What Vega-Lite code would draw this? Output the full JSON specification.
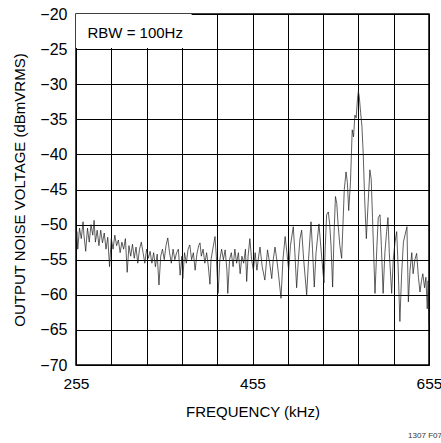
{
  "$schema": "https://vega.github.io/schema/vega-lite/v6.json",
  "autosize": "none",
  "width": 353,
  "height": 351,
  "padding": {"left": 76, "top": 14, "right": 12, "bottom": 78},
  "background": "white",
  "config": {
    "font": "Liberation Sans",
    "view": {"stroke": "#000", "strokeWidth": 1.5},
    "axis": {"gridColor": "#000", "gridOpacity": 1, "gridWidth": 1, "domain": false, "ticks": false, "labelColor": "#000", "titleColor": "#000", "labelFont": "Liberation Sans", "titleFont": "Liberation Sans", "titleFontWeight": "normal"}
  },
  "title": {"text": "1307 F07", "orient": "bottom", "anchor": "end", "fontSize": 8, "fontWeight": "normal", "color": "#333", "offset": 12, "font": "Liberation Sans"},
  "datasets": {
    "trace": [
      {"f":255,"v":-52.5},{"f":256,"v":-51},{"f":257,"v":-53.5},{"f":259,"v":-50.5},{"f":261,"v":-52},{"f":263,"v":-49.6},{"f":264,"v":-51.5},{"f":266,"v":-53.8},{"f":268,"v":-50.5},{"f":270,"v":-52.5},{"f":272,"v":-50},{"f":274,"v":-51.5},{"f":275.5,"v":-49.4},{"f":277,"v":-52.5},{"f":279,"v":-50.8},{"f":281,"v":-53},{"f":283,"v":-50.8},{"f":285,"v":-52.6},{"f":287,"v":-51.2},{"f":289,"v":-53.5},{"f":291,"v":-51.8},{"f":293,"v":-56},{"f":295,"v":-52},{"f":297,"v":-53.5},{"f":299,"v":-51.5},{"f":301,"v":-53},{"f":303,"v":-52.2},{"f":305,"v":-54},{"f":307,"v":-52.5},{"f":309,"v":-53.5},{"f":311,"v":-52},{"f":313,"v":-56.8},{"f":315,"v":-53},{"f":317,"v":-54.5},{"f":319,"v":-52.8},{"f":321,"v":-54.8},{"f":323,"v":-53.2},{"f":325,"v":-55.5},{"f":327,"v":-53.5},{"f":329,"v":-52.5},{"f":331,"v":-54},{"f":333,"v":-55.5},{"f":335,"v":-53.5},{"f":337,"v":-54.8},{"f":339,"v":-53.8},{"f":341,"v":-55.5},{"f":343,"v":-54},{"f":345,"v":-56},{"f":347,"v":-54.2},{"f":349,"v":-58.6},{"f":351,"v":-54.5},{"f":353,"v":-53.5},{"f":355,"v":-55},{"f":357,"v":-53},{"f":359,"v":-51.9},{"f":361,"v":-54},{"f":363,"v":-55.5},{"f":365,"v":-53.5},{"f":367,"v":-55},{"f":369,"v":-54},{"f":371,"v":-53.5},{"f":373,"v":-57.2},{"f":375,"v":-54.5},{"f":376,"v":-57.7},{"f":378,"v":-54},{"f":380,"v":-55.5},{"f":382,"v":-53.5},{"f":384,"v":-52.9},{"f":386,"v":-55},{"f":388,"v":-54},{"f":390,"v":-56.5},{"f":392,"v":-54.2},{"f":394,"v":-53},{"f":395.5,"v":-52.6},{"f":397,"v":-54.5},{"f":399,"v":-53.5},{"f":401,"v":-55.5},{"f":403,"v":-54},{"f":405,"v":-56},{"f":406.8,"v":-58.5},{"f":408,"v":-55},{"f":410,"v":-53.5},{"f":412.5,"v":-51.7},{"f":414,"v":-54.5},{"f":416,"v":-59.8},{"f":418,"v":-55},{"f":420,"v":-53.5},{"f":422,"v":-55},{"f":424,"v":-53.6},{"f":426,"v":-56.5},{"f":427,"v":-59.8},{"f":429,"v":-55},{"f":431,"v":-54},{"f":433,"v":-56},{"f":435,"v":-53.5},{"f":437,"v":-55.5},{"f":439,"v":-54},{"f":441,"v":-57},{"f":443,"v":-54.5},{"f":445,"v":-55.5},{"f":447,"v":-53.5},{"f":448.4,"v":-58.1},{"f":450,"v":-54.5},{"f":452,"v":-52},{"f":454,"v":-55},{"f":456,"v":-56.5},{"f":458,"v":-54},{"f":460,"v":-56.5},{"f":462,"v":-54.5},{"f":463.5,"v":-53.2},{"f":466,"v":-56},{"f":469,"v":-57.9},{"f":472,"v":-53.6},{"f":474.5,"v":-55.5},{"f":476.8,"v":-57.7},{"f":478.5,"v":-55},{"f":480.5,"v":-53.2},{"f":482,"v":-54.5},{"f":484,"v":-56.5},{"f":487.3,"v":-60.5},{"f":489.5,"v":-55},{"f":492,"v":-51.7},{"f":494,"v":-54},{"f":496,"v":-56.5},{"f":498,"v":-53},{"f":501.2,"v":-50.3},{"f":503,"v":-54},{"f":505,"v":-59},{"f":507,"v":-55},{"f":508.8,"v":-52},{"f":510.7,"v":-50.8},{"f":513,"v":-55},{"f":516.4,"v":-60},{"f":518.5,"v":-55},{"f":521.3,"v":-49.6},{"f":523,"v":-53.5},{"f":525,"v":-58.9},{"f":527,"v":-54},{"f":530.3,"v":-49.9},{"f":532,"v":-52.5},{"f":534,"v":-55.5},{"f":536,"v":-58.3},{"f":537.5,"v":-53},{"f":539,"v":-48.6},{"f":540.9,"v":-48.2},{"f":542.5,"v":-50},{"f":544,"v":-53},{"f":545.8,"v":-58.9},{"f":547.5,"v":-51},{"f":549,"v":-46},{"f":550.5,"v":-47},{"f":552,"v":-50},{"f":554,"v":-53},{"f":556,"v":-54.8},{"f":557.5,"v":-50},{"f":559,"v":-45},{"f":561,"v":-42.5},{"f":562.5,"v":-44},{"f":564,"v":-48},{"f":566,"v":-44},{"f":568,"v":-36.5},{"f":569.5,"v":-37.5},{"f":571,"v":-34.4},{"f":572.5,"v":-34.8},{"f":574,"v":-32},{"f":575,"v":-31},{"f":576,"v":-31.8},{"f":577.5,"v":-34},{"f":579,"v":-36},{"f":580.5,"v":-40},{"f":582,"v":-46},{"f":584,"v":-52},{"f":586,"v":-47},{"f":588,"v":-42.2},{"f":589.5,"v":-43.5},{"f":591,"v":-49},{"f":593.8,"v":-59.8},{"f":596,"v":-53},{"f":597.5,"v":-49},{"f":599.5,"v":-48.6},{"f":601,"v":-53},{"f":603,"v":-59.8},{"f":605,"v":-54},{"f":607,"v":-51},{"f":608.5,"v":-49},{"f":610,"v":-54},{"f":612.7,"v":-59.8},{"f":614.5,"v":-55},{"f":616.5,"v":-52.5},{"f":618.4,"v":-51},{"f":620,"v":-56},{"f":622,"v":-63.8},{"f":624,"v":-57},{"f":626,"v":-52.5},{"f":627.8,"v":-51.5},{"f":630,"v":-50.3},{"f":631.6,"v":-61},{"f":633.5,"v":-56.5},{"f":635.5,"v":-54},{"f":637,"v":-57},{"f":639,"v":-55},{"f":641,"v":-54.1},{"f":643,"v":-57.5},{"f":644.8,"v":-59.6},{"f":646.5,"v":-58},{"f":648,"v":-57},{"f":650,"v":-59},{"f":651.5,"v":-57.5},{"f":653,"v":-62},{"f":654,"v":-58},{"f":655,"v":-64}
    ],
    "box": [{"f": 255, "f2": 386, "v": -20, "v2": -24.85}],
    "note": [{"f": 268, "v": -22.7, "label": "RBW = 100Hz"}]
  },
  "encoding": {
    "x": {"field": "f", "type": "quantitative", "scale": {"domain": [255, 655], "nice": false, "zero": false},
      "axis": {"values": [255,295,335,375,415,455,495,535,575,615,655], "labelOverlap": false, "labelExpr": "datum.value==255||datum.value==455||datum.value==655 ? datum.label : ''", "labelFontSize": 15.5, "labelPadding": 11, "title": "FREQUENCY (kHz)", "titleFontSize": 15, "titlePadding": 13, "labelFlush": false}},
    "y": {"field": "v", "type": "quantitative", "scale": {"domain": [-70, -20], "nice": false, "zero": false},
      "axis": {"values": [-70,-65,-60,-55,-50,-45,-40,-35,-30,-25,-20], "labelOverlap": false, "labelFontSize": 16, "labelPadding": 9, "title": "OUTPUT NOISE VOLTAGE (dBmVRMS)", "titleFontSize": 15, "titlePadding": 12, "labelFlush": false}}
  },
  "layer": [
    {
      "data": {"name": "trace"},
      "mark": {"type": "line", "color": "#1a1a1a", "strokeWidth": 0.7, "interpolate": "linear"}
    },
    {
      "data": {"name": "box"},
      "mark": {"type": "rect", "fill": "white", "stroke": null},
      "encoding": {
        "x2": {"field": "f2"},
        "y2": {"field": "v2"}
      }
    },
    {
      "data": {"name": "note"},
      "mark": {"type": "text", "align": "left", "baseline": "middle", "fontSize": 15, "color": "#000"},
      "encoding": {
        "text": {"field": "label"}
      }
    }
  ]
}
